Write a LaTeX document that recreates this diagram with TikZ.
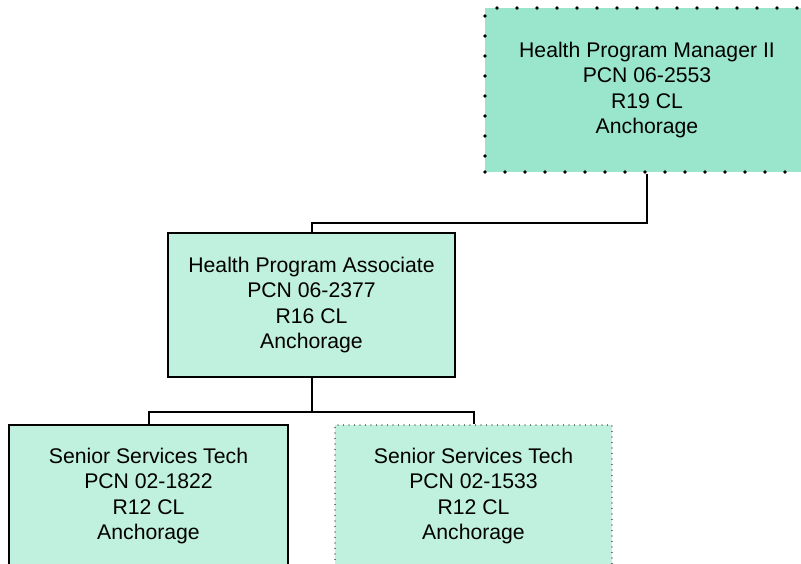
\documentclass[tikz,border=0pt]{standalone}
\usepackage{fontspec}
\setmainfont{Liberation Sans}
\usepackage{tikz}
\usetikzlibrary{calc}

\definecolor{darkmint}{RGB}{153,230,204}
\definecolor{lightmint}{RGB}{192,240,222}

\begin{document}
\begin{tikzpicture}[x=1pt,y=-1pt,line width=1.6pt,
  pos node/.style={draw,fill=lightmint,align=center,inner sep=0pt,
    font=\fontsize{21.2}{25.6}\selectfont},
  vacant/.style={line width=3.8pt,line cap=round,dash pattern=on 0pt off 20pt},
  fine dots/.style={line width=1.4pt,line cap=round,dash pattern=on 0pt off 5.5pt}]

\useasboundingbox (0,0) rectangle (801,564);

\node[pos node,fill=darkmint,vacant,minimum width=324pt,minimum height=164pt](HPM) at (647,90)
  {Health Program Manager II\\PCN 06-2553\\R19 CL\\Anchorage};
\node[pos node,minimum width=287pt,minimum height=144pt](HPA) at (311.5,305)
  {Health Program Associate\\PCN 06-2377\\R16 CL\\Anchorage};
\node[pos node,minimum width=279pt,minimum height=142pt](SST1) at (148.5,496)
  {Senior Services Tech\\PCN 02-1822\\R12 CL\\Anchorage};
\node[pos node,fine dots,minimum width=277pt,minimum height=142pt](SST2) at (473.5,496)
  {Senior Services Tech\\PCN 02-1533\\R12 CL\\Anchorage};

% reporting lines
\draw[line width=2pt] (HPM.south) -- ++(0,49) -| (HPA.north);
\draw[line width=2pt] (HPA.south) -- ++(0,34) -| (SST1.north);
\draw[line width=2pt] (HPA.south) -- ++(0,34) -| (SST2.north);
\end{tikzpicture}
\end{document}
